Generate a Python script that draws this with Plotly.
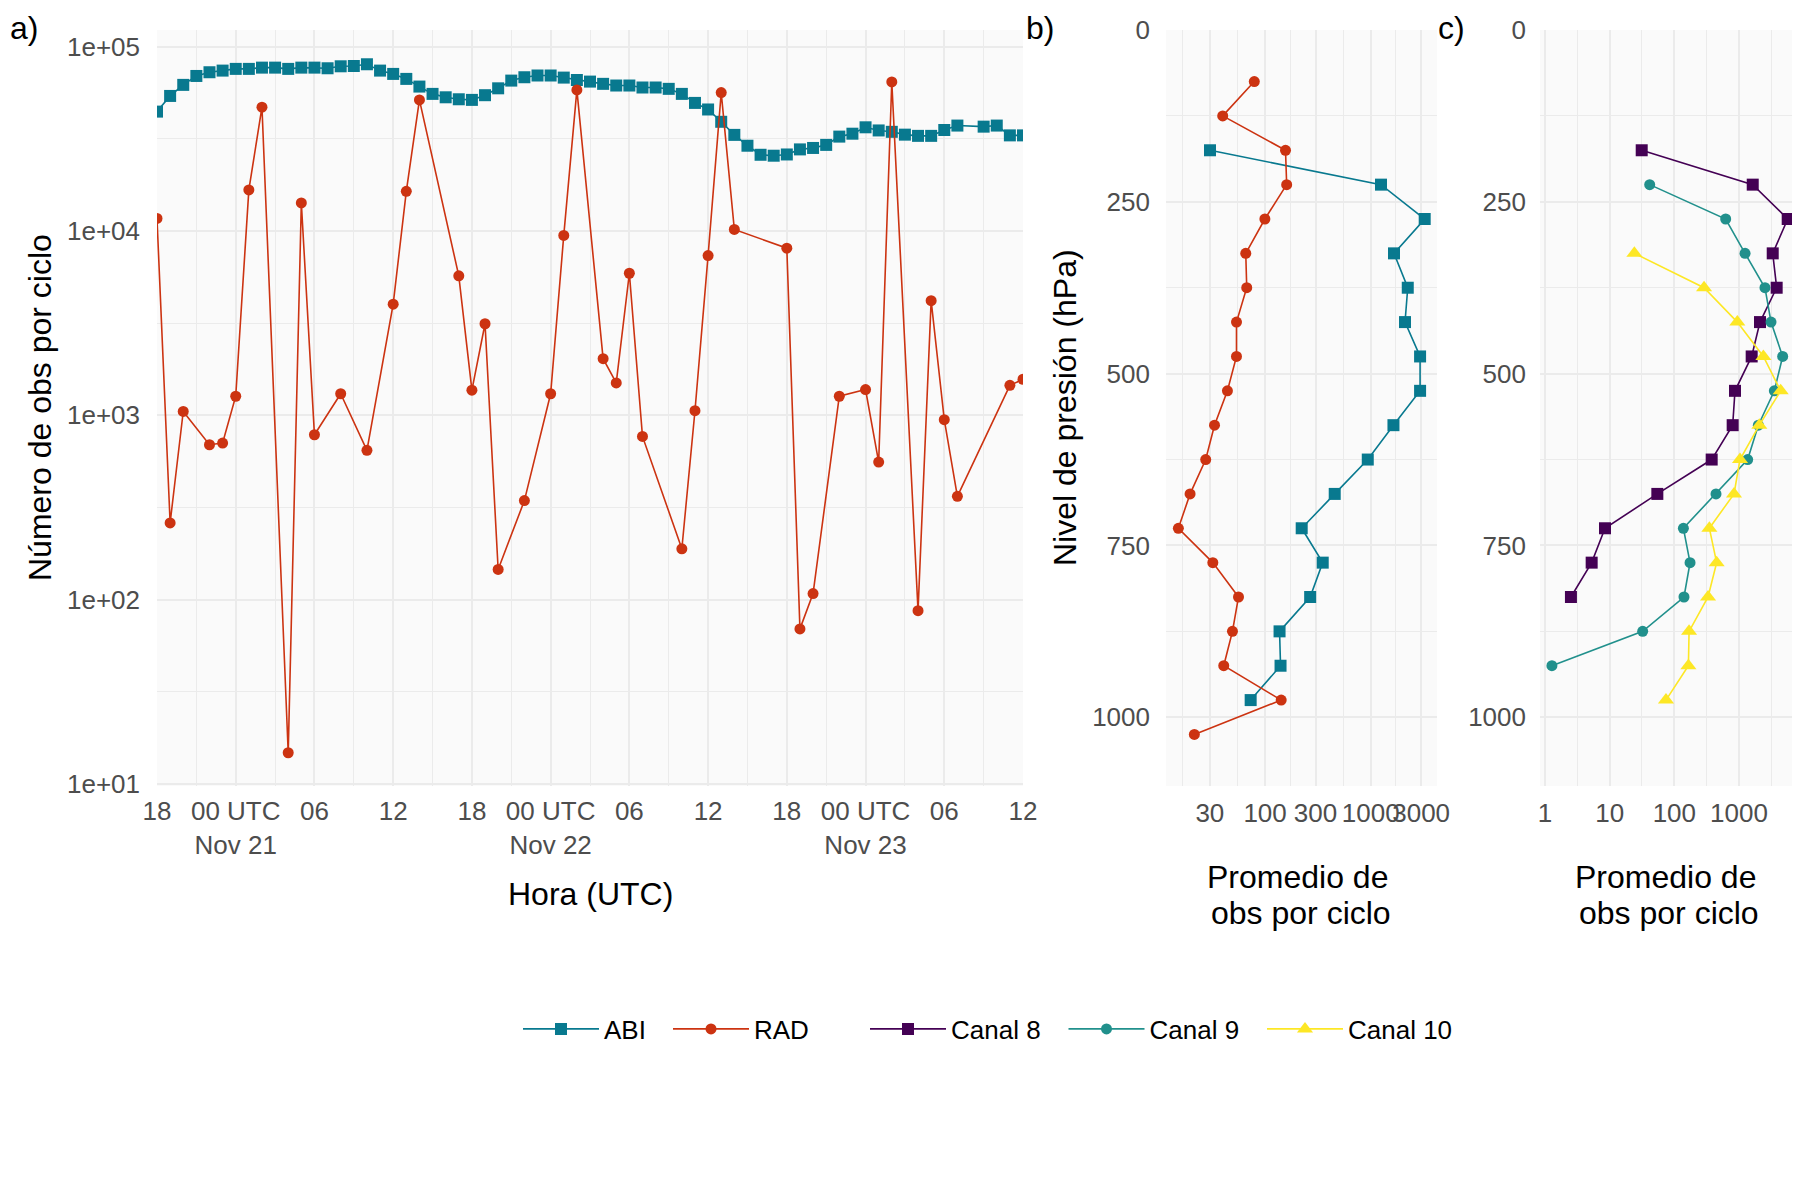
import pandas as pd
import plotly.graph_objects as go

# ---------------- data ----------------
inicio = "2020-11-20 18:00"

abi_horas = list(range(0, 62)) + [63, 64, 65, 66]
abi_obs = [44400, 54000, 62000, 69300, 72600, 74100, 75700, 75700, 76900, 76900,
           75700, 76900, 76900, 76300, 78200, 78500, 80200, 74100, 71100, 66800,
           60700, 55400, 53100, 51800, 51400, 54500, 59400, 65400, 68200, 69700,
           69700, 67900, 65900, 64600, 62800, 61500, 61500, 60000, 60000, 59000,
           55400, 49500, 45600, 39100, 33200, 29000, 25900, 25600, 26000, 27700,
           28200, 29300, 32500, 33700, 36500, 35100, 34500, 33300, 32800, 32800,
           35300, 37300, 36800, 37300, 33000, 33000]

rad_horas = [0, 1, 2, 4, 5, 6, 7, 8, 10, 11, 12, 14, 16, 18, 19, 20, 23, 24, 25, 26,
             28, 30, 31, 32, 34, 35, 36, 37, 40, 41, 42, 43, 44, 48, 49, 50, 52, 54,
             55, 56, 58, 59, 60, 61, 65, 66]
rad_obs = [11700, 261, 1050, 693, 708, 1270, 16700, 46900, 14.8, 14200,
           785, 1310, 646, 4010, 16400, 51400, 5710, 1370, 3140, 146,
           345, 1310, 9460, 58200, 2030, 1500, 5900, 769, 189, 1060,
           7360, 56300, 10200, 8070, 69.5, 108, 1270, 1380, 558, 64300,
           87.3, 4190, 948, 364, 1455, 1570]

niveles_abi = [175, 225, 275, 325, 375, 425, 475, 525, 575, 625, 675, 725, 775, 825, 875, 925, 975]
perfil_abi = [30.1, 1250, 3240, 1660, 2240, 2110, 2930, 2930, 1640, 937, 456, 222, 351, 267, 137, 140, 73]

niveles_rad = [75, 125, 175, 225, 275, 325, 375, 425, 475, 525, 575, 625, 675, 725, 775, 825, 875, 925, 975, 1025]
perfil_rad = [79, 39.7, 156, 160, 99.5, 65.6, 67, 53.6, 53.6, 44, 33.2, 27.4, 19.5, 15.1, 32, 56, 49.1, 40.6, 142, 21.4]

niveles_c8 = [175, 225, 275, 325, 375, 425, 475, 525, 575, 625, 675, 725, 775, 825]
canal8 = [31.3, 1630, 5660, 3320, 3820, 2110, 1570, 867, 798, 378, 54.6, 8.47, 5.27, 2.52]

niveles_c9 = [225, 275, 325, 375, 425, 475, 525, 575, 625, 675, 725, 775, 825, 875, 925]
canal9 = [41.6, 622, 1240, 2520, 3125, 4730, 3520, 1990, 1360, 441, 138, 175, 141, 32.4, 1.28]

niveles_c10 = [325, 375, 425, 475, 525, 575, 625, 675, 725, 775, 825, 875, 925, 975]
canal10 = [24.1, 288, 942, 2380, 4410, 2060, 1036, 837, 348, 451, 332, 169, 165, 74.3]

horas_ticks = [0, 6, 12, 18, 24, 30, 36, 42, 48, 54, 60, 66]
etiquetas_x = ["18", "00 UTC<br>Nov 21", "06", "12", "18", "00 UTC<br>Nov 22", "06", "12",
               "18", "00 UTC<br>Nov 23", "06", "12"]
horas_minor = [3, 9, 15, 21, 27, 33, 39, 45, 51, 57, 63]
y_ticks_a = [10, 100, 1000, 10000, 100000]
y_etiq_a = ["1e+01", "1e+02", "1e+03", "1e+04", "1e+05"]
p_ticks = [0, 250, 500, 750, 1000]
p_minor = [125, 375, 625, 875]
b_ticks = [30, 100, 300, 1000, 3000]
c_ticks = [1, 10, 100, 1000]

# ---------------- styling ----------------
# The page adds an 8 px body margin; positions below are given in page pixels
OFF = 8
W, H = 1800 - OFF, 1200 - OFF
C_ABI = "#08798F"
C_RAD = "#CC3311"
C8, C9, C10 = "#440154", "#21908C", "#FDE725"
GRID = "#EBEBEB"
BG = "#FAFAFA"
FONT = "Liberation Sans"
TICK_FONT = dict(family=FONT, size=26, color="#4D4D4D")

t0 = pd.Timestamp(inicio)
def t(h):
    return (t0 + pd.Timedelta(hours=h)).strftime("%Y-%m-%d %H:%M:%S")

abi_t = [t(h) for h in abi_horas]
rad_t = [t(h) for h in rad_horas]

def fx(px):
    return (px - OFF) / W

def fy(py):
    return 1 - (py - OFF) / H

def dom_x(a, b):
    return [max(0, fx(a)), min(1, fx(b))]

def dom_y(top, bottom):
    return [fy(bottom), fy(top)]

fig = go.Figure()

lw = 1.6
SQ, CI, TR = 12, 11, 14
fig.add_trace(go.Scatter(x=abi_t, y=abi_obs, mode="lines+markers", name="ABI",
                         line=dict(color=C_ABI, width=lw),
                         marker=dict(symbol="square", size=SQ, color=C_ABI),
                         xaxis="x", yaxis="y", legend="legend", legendgroup="abi"))
fig.add_trace(go.Scatter(x=rad_t, y=rad_obs, mode="lines+markers", name="RAD",
                         line=dict(color=C_RAD, width=lw),
                         marker=dict(symbol="circle", size=CI, color=C_RAD),
                         xaxis="x", yaxis="y", legend="legend", legendgroup="rad"))

fig.add_trace(go.Scatter(x=perfil_abi, y=niveles_abi, mode="lines+markers", name="ABI",
                         line=dict(color=C_ABI, width=lw),
                         marker=dict(symbol="square", size=SQ, color=C_ABI),
                         xaxis="x2", yaxis="y2", showlegend=False))
fig.add_trace(go.Scatter(x=perfil_rad, y=niveles_rad, mode="lines+markers", name="RAD",
                         line=dict(color=C_RAD, width=lw),
                         marker=dict(symbol="circle", size=CI, color=C_RAD),
                         xaxis="x2", yaxis="y2", showlegend=False))

fig.add_trace(go.Scatter(x=canal8, y=niveles_c8, mode="lines+markers", name="Canal 8",
                         line=dict(color=C8, width=lw),
                         marker=dict(symbol="square", size=SQ, color=C8),
                         xaxis="x3", yaxis="y3", legend="legend2"))
fig.add_trace(go.Scatter(x=canal9, y=niveles_c9, mode="lines+markers", name="Canal 9",
                         line=dict(color=C9, width=lw),
                         marker=dict(symbol="circle", size=CI, color=C9),
                         xaxis="x3", yaxis="y3", legend="legend2"))
fig.add_trace(go.Scatter(x=canal10, y=niveles_c10, mode="lines+markers", name="Canal 10",
                         line=dict(color=C10, width=lw),
                         marker=dict(symbol="triangle-up", size=TR, color=C10),
                         xaxis="x3", yaxis="y3", legend="legend2"))

common = dict(showgrid=True, gridcolor=GRID, gridwidth=2, zeroline=False, showline=False,
              ticks="", tickfont=TICK_FONT, automargin=False, tickangle=0)
minor_style = dict(showgrid=True, gridcolor=GRID, gridwidth=1.1, ticks="")

ya_top, ya_bot = 30, 786
IW = 76

fig.update_layout(
    width=W, height=H,
    margin=dict(l=0, r=0, t=0, b=0, autoexpand=False),
    paper_bgcolor="white", plot_bgcolor=BG,
    font=dict(family=FONT, color="black"),
    xaxis=dict(domain=dom_x(157, 1023), anchor="y", type="date",
               range=[t(0), t(66)],
               tickmode="array", tickvals=[t(h) for h in horas_ticks], ticktext=etiquetas_x,
               minor=dict(tickmode="array", tickvals=[t(h) for h in horas_minor], **minor_style),
               ticklabelstandoff=7, **common),
    yaxis=dict(domain=dom_y(ya_top, ya_bot), anchor="x", type="log",
               range=[0.99, 5.09], tickmode="array", tickvals=y_ticks_a, ticktext=y_etiq_a,
               minor=dict(tickmode="array", tickvals=[10 ** 1.5, 10 ** 2.5, 10 ** 3.5, 10 ** 4.5], **minor_style),
               ticklabelstandoff=16, **common),
    xaxis2=dict(domain=dom_x(1166, 1437), anchor="y2", type="log",
                range=[1.062, 3.627], tickmode="array", tickvals=b_ticks,
                ticktext=[str(v) for v in b_ticks],
                minor=dict(tickmode="array", tickvals=[16.4, 54.8, 173.2, 547.7, 1732], **minor_style),
                ticklabelstandoff=9, **common),
    yaxis2=dict(domain=dom_y(ya_top, ya_bot), anchor="x2", range=[1100, 0],
                tickmode="array", tickvals=p_ticks,
                minor=dict(tickmode="array", tickvals=p_minor, **minor_style),
                ticklabelstandoff=15, **common),
    xaxis3=dict(domain=dom_x(1540, 1800), anchor="y3", type="log",
                range=[-0.077, 3.943], tickmode="array", tickvals=c_ticks,
                ticktext=[str(v) for v in c_ticks],
                minor=dict(tickmode="array", tickvals=[3.162, 31.62, 316.2, 3162], **minor_style),
                ticklabelstandoff=9, **common),
    yaxis3=dict(domain=dom_y(ya_top, ya_bot), anchor="x3", range=[1100, 0],
                tickmode="array", tickvals=p_ticks,
                minor=dict(tickmode="array", tickvals=p_minor, **minor_style),
                ticklabelstandoff=13, **common),
    legend=dict(orientation="h", x=fx(523 - 5), xanchor="left", y=fy(1029), yanchor="middle",
                font=dict(family=FONT, size=26, color="black"), bgcolor="rgba(0,0,0,0)",
                itemwidth=IW, entrywidth=150 - IW - 15, tracegroupgap=0),
    legend2=dict(orientation="h", x=fx(870 - 5), xanchor="left", y=fy(1029), yanchor="middle",
                 font=dict(family=FONT, size=26, color="black"), bgcolor="rgba(0,0,0,0)",
                 itemwidth=IW, entrywidth=198.5 - IW - 15, tracegroupgap=0),
)

def ann(text, px, py, size=32, angle=0, xanchor="center", yanchor="middle"):
    fig.add_annotation(text=text, x=fx(px), y=fy(py), xref="paper", yref="paper",
                       showarrow=False, textangle=angle, xanchor=xanchor, yanchor=yanchor,
                       font=dict(family=FONT, size=size, color="black"))

ann("a)", OFF, OFF, xanchor="left", yanchor="top")
ann("b)", 1024, OFF, xanchor="left", yanchor="top")
ann("c)", 1436, OFF, xanchor="left", yanchor="top")
ann("Número de obs por ciclo", 40, 408, angle=-90)
ann("Nivel de presión (hPa)", 1065, 408, angle=-90)
ann("Hora (UTC)", 590, 894)
ann("Promedio de", 1297, 877)
ann("obs por ciclo", 1301, 913)
ann("Promedio de", 1665, 877)
ann("obs por ciclo", 1669, 913)

fig.write_html("out.html")
